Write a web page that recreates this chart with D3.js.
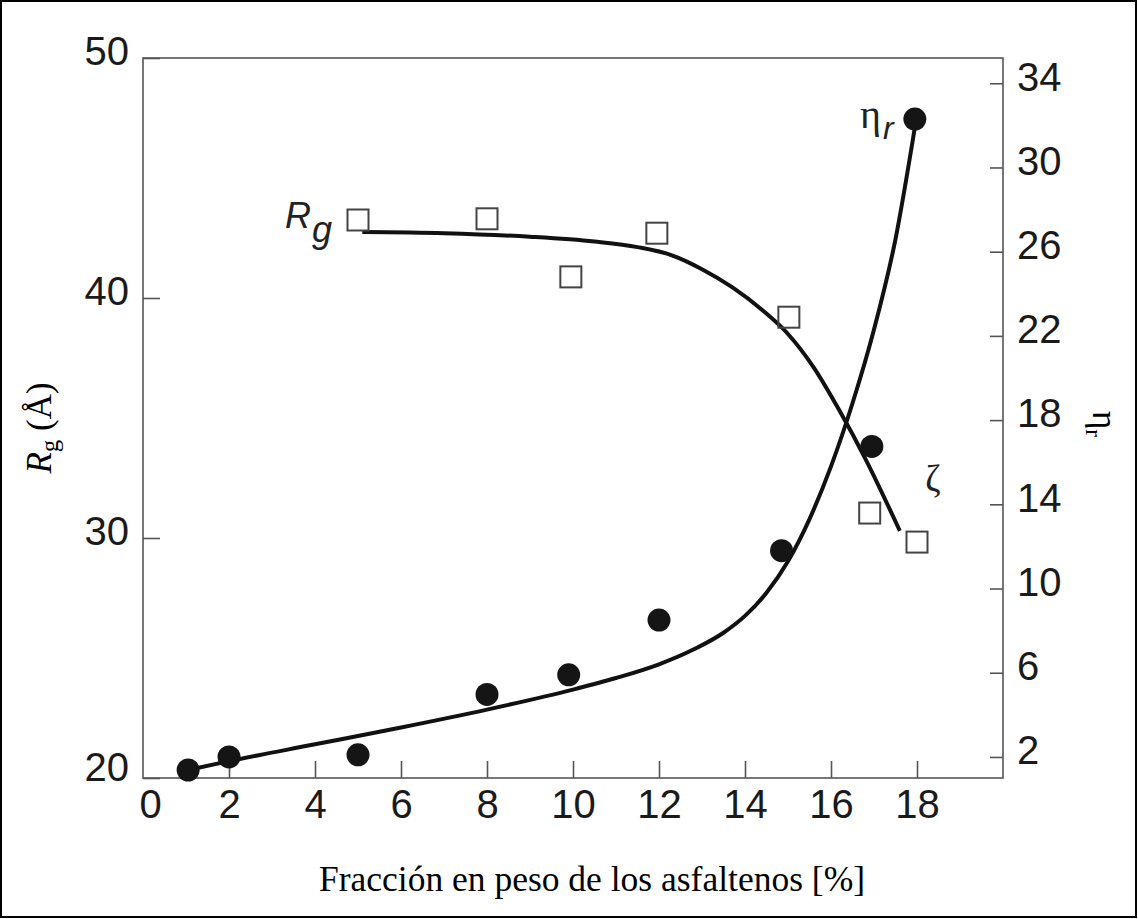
<!DOCTYPE html>
<html>
<head>
<meta charset="utf-8">
<script src="https://cdn.jsdelivr.net/npm/d3@7"></script>
<style>
  body { margin: 0; background: #fff; }
  svg { display: block; }
</style>
</head>
<body>
<script>
// measured points (x = asphaltene wt %)
var rgX = [5, 8, 9.95, 11.95, 15.02, 16.9, 18.0];
var rgY = [43.25, 43.3, 40.88, 42.7, 39.2, 31.04, 29.83];
var etaX = [1.05, 2, 5, 8, 9.9, 12, 14.85, 16.95, 17.95];
var etaY = [1.38, 2.0, 2.1, 4.97, 5.9, 8.5, 11.8, 16.75, 32.3];

// fitted curves
var rgFitX = [5.1, 7, 9, 10.5, 11.5, 12.3, 13, 13.7, 14.4, 15, 15.6, 16.2, 16.8, 17.6];
var rgFitY = [42.75, 42.7, 42.55, 42.35, 42.12, 41.78, 41.2, 40.45, 39.5, 38.5, 37.1, 35.3, 33.3, 30.3];
var etaFitX = [1.05, 2, 4, 6, 8, 10, 11, 12, 12.8, 13.5, 14, 14.5, 15, 15.5, 16, 16.5, 17, 17.5, 17.95];
var etaFitY = [1.38, 1.8, 2.6, 3.4, 4.25, 5.2, 5.75, 6.4, 7.1, 7.9, 8.7, 9.8, 11.3, 13.3, 15.8, 18.8, 22.3, 26.6, 31.9];

var xTicks = [0, 2, 4, 6, 8, 10, 12, 14, 16, 18];
var leftTicks = [20, 30, 40, 50];
var rightTicks = [2, 6, 10, 14, 18, 22, 26, 30, 34];

var width = 1138, height = 919;
var plotLeft = 143, plotRight = 1003, plotTop = 58, plotBottom = 778;

var svg = d3.select("body").append("svg")
    .attr("width", width)
    .attr("height", height);

svg.append("rect")
    .attr("x", 1).attr("y", 1)
    .attr("width", width - 3).attr("height", height - 3)
    .attr("fill", "#fff")
    .attr("stroke", "#000")
    .attr("stroke-width", 2);

var x = d3.scaleLinear().domain([0, 20]).range([plotLeft, plotRight]);
var yL = d3.scaleLinear().domain([20, 50]).range([plotBottom, plotTop]);
var yR = d3.scaleLinear().domain([1, 35.2]).range([plotBottom, plotTop]);

var tickFont = "'Liberation Sans', Arial, Helvetica, sans-serif";
var serif = "'Liberation Serif', 'Times New Roman', serif";

function styleAxis(g) {
    g.select(".domain").remove();
    g.selectAll("line").attr("stroke", "#555").attr("stroke-width", 1.6);
    g.selectAll("text")
        .attr("fill", "#1a1a1a")
        .style("font-family", tickFont)
        .style("font-size", "40px");
}

// bottom axis, ticks point inward
var gx = svg.append("g")
    .attr("transform", "translate(0," + plotBottom + ")")
    .call(d3.axisBottom(x).tickValues(xTicks).tickSizeInner(-17).tickSizeOuter(0).tickPadding(12));
styleAxis(gx);
gx.selectAll(".tick").filter(function(d) { return d === 0; }).select("line").remove();
gx.selectAll(".tick").filter(function(d) { return d === 0; }).select("text").attr("dx", 7);

var gl = svg.append("g")
    .attr("transform", "translate(" + plotLeft + ",0)")
    .call(d3.axisLeft(yL).tickValues(leftTicks).tickSizeInner(-17).tickSizeOuter(0).tickPadding(14));
styleAxis(gl);
gl.selectAll("text").attr("dy", function(d) { return d === 20 ? "0.05em" : "0.17em"; });

var gr = svg.append("g")
    .attr("transform", "translate(" + plotRight + ",0)")
    .call(d3.axisRight(yR).tickValues(rightTicks).tickSizeInner(-13).tickSizeOuter(0).tickPadding(14));
styleAxis(gr);
gr.selectAll("text").attr("dy", "0.17em");

// plot frame
svg.append("rect")
    .attr("x", plotLeft).attr("y", plotTop)
    .attr("width", plotRight - plotLeft).attr("height", plotBottom - plotTop)
    .attr("fill", "none")
    .attr("stroke", "#555")
    .attr("stroke-width", 1.6);

// fitted curves
var rgLine = d3.line()
    .x(function(d) { return x(d[0]); })
    .y(function(d) { return yL(d[1]); })
    .curve(d3.curveMonotoneX);
var etaLine = d3.line()
    .x(function(d) { return x(d[0]); })
    .y(function(d) { return yR(d[1]); })
    .curve(d3.curveMonotoneX);

svg.append("path")
    .datum(d3.zip(rgFitX, rgFitY))
    .attr("fill", "none")
    .attr("stroke", "#111")
    .attr("stroke-width", 4)
    .attr("d", rgLine);

svg.append("path")
    .datum(d3.zip(etaFitX, etaFitY))
    .attr("fill", "none")
    .attr("stroke", "#111")
    .attr("stroke-width", 4)
    .attr("d", etaLine);

// markers
var sq = 21;
svg.selectAll("rect.rg")
    .data(d3.zip(rgX, rgY))
    .enter().append("rect")
    .attr("class", "rg")
    .attr("x", function(d) { return x(d[0]) - sq / 2; })
    .attr("y", function(d) { return yL(d[1]) - sq / 2; })
    .attr("width", sq).attr("height", sq)
    .attr("fill", "none")
    .attr("stroke", "#444")
    .attr("stroke-width", 2);

svg.selectAll("circle.eta")
    .data(d3.zip(etaX, etaY))
    .enter().append("circle")
    .attr("class", "eta")
    .attr("cx", function(d) { return x(d[0]); })
    .attr("cy", function(d) { return yR(d[1]); })
    .attr("r", 11.5)
    .attr("fill", "#151515");

// in-plot labels
var rgLab = svg.append("text")
    .attr("x", 285).attr("y", 228)
    .style("font-family", tickFont)
    .style("font-style", "italic")
    .style("font-size", "36px")
    .attr("fill", "#222");
rgLab.append("tspan").text("R");
rgLab.append("tspan").attr("dy", 14).attr("dx", 1).text("g");

var etaLab = svg.append("text")
    .attr("x", 860).attr("y", 128)
    .attr("fill", "#222");
etaLab.append("tspan")
    .style("font-family", serif)
    .style("font-size", "40px")
    .text("η");
etaLab.append("tspan")
    .attr("dy", 11).attr("dx", 2)
    .style("font-family", tickFont)
    .style("font-style", "italic")
    .style("font-size", "32px")
    .text("r");

svg.append("text")
    .attr("x", 933).attr("y", 491)
    .attr("text-anchor", "middle")
    .style("font-family", serif)
    .style("font-size", "37px")
    .attr("fill", "#222")
    .text("ζ");

// axis titles
svg.append("text")
    .attr("x", 592).attr("y", 891)
    .attr("text-anchor", "middle")
    .style("font-family", serif)
    .style("font-size", "35.5px")
    .attr("fill", "#000")
    .text("Fracción en peso de los asfaltenos [%]");

var yt = svg.append("text")
    .attr("transform", "translate(51,428) rotate(-90)")
    .attr("text-anchor", "middle")
    .style("font-family", serif)
    .style("font-size", "35px")
    .attr("fill", "#000");
yt.append("tspan").style("font-style", "italic").text("R");
yt.append("tspan").attr("dy", 7).style("font-size", "25px").text("g");
yt.append("tspan").attr("dy", -7).text(" (Å)");

var yrt = svg.append("text")
    .attr("transform", "translate(1093,424) rotate(90)")
    .attr("text-anchor", "middle")
    .style("font-family", serif)
    .style("font-size", "35px")
    .attr("fill", "#000");
yrt.append("tspan").text("η");
yrt.append("tspan").attr("dy", 7).style("font-size", "23px").text("r");
</script>
</body>
</html>
